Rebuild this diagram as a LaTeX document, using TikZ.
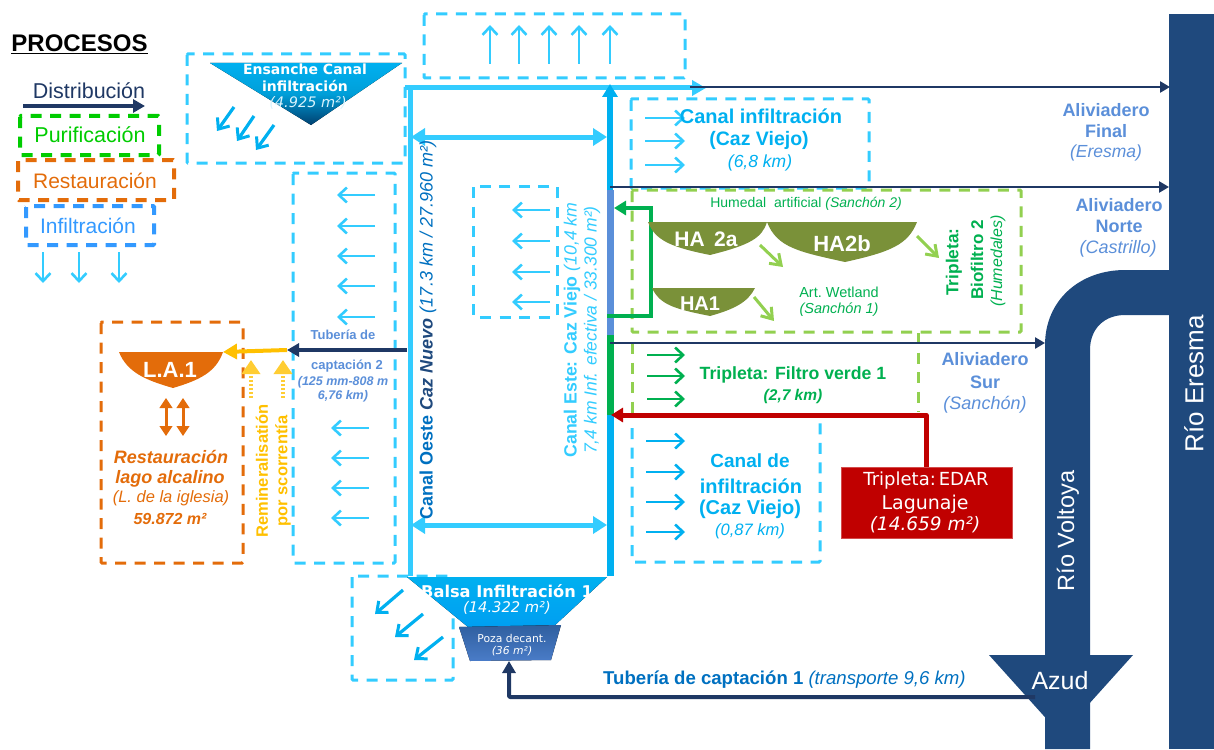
\documentclass[tikz,border=0pt]{standalone}
\usepackage{fontspec}
\setmainfont{Liberation Sans}
\newfontfamily\dv{DejaVu Sans}
\usetikzlibrary{arrows.meta}
\definecolor{cyanb}{HTML}{33CCFF}
\definecolor{skyb}{HTML}{00B0F0}
\definecolor{navy}{HTML}{1F3864}
\definecolor{river}{HTML}{1F497D}
\definecolor{midb}{HTML}{5B8FD9}
\definecolor{greenb}{HTML}{00B050}
\definecolor{limeb}{HTML}{92D050}
\definecolor{oran}{HTML}{E36C0A}
\definecolor{olive}{HTML}{7A9139}
\definecolor{yell}{HTML}{FFC000}
\definecolor{redb}{HTML}{C00000}
\definecolor{canalb}{HTML}{0070C0}
\definecolor{legg}{HTML}{00CC00}
\definecolor{legb}{HTML}{3399FF}
\definecolor{pozat}{HTML}{2F5F9F}
\definecolor{pozab}{HTML}{4A7CC8}
\newcommand{\fsz}[1]{\fontsize{#1}{#1}\selectfont}
\tikzset{
  x=1pt,y=-1pt,
  dbox/.style={line width=3pt,dash pattern=on 11pt off 8.5pt,rounded corners=1pt},
  infbox/.style={dbox,draw=cyanb},
  limebox/.style={dbox,draw=limeb},
  barb/.style={-{Straight Barb[length=8pt,width=15pt,line width=2.6pt]},line width=2.8pt},
  infarrow/.style={barb,draw=cyanb},
  skyarrow/.style={barb,draw=skyb},
  grarrow/.style={barb,draw=greenb},
  diagarrow/.style={-{Straight Barb[length=9pt,width=15pt,line width=3pt]},line width=3.2pt,draw=skyb},
  limearrow/.style={-{Straight Barb[length=10pt,width=14pt,line width=3pt]},line width=3pt,draw=limeb},
  navyline/.style={-{Triangle[length=10pt,width=11pt]},line width=2.5pt,draw=navy},
  navythick/.style={-{Triangle[length=12pt,width=13pt]},line width=4pt,draw=navy,line join=round},
  thick arrow/.style={{Triangle[length=14pt,width=17pt]}-{Triangle[length=14pt,width=17pt]},line width=5pt,draw=cyanb},
  orarrow/.style={{Triangle[length=10pt,width=12.5pt]}-{Triangle[length=10pt,width=12.5pt]},line width=3pt,draw=oran},
  yelarrow/.style={line width=3.5pt,draw=yell!80,dash pattern=on 2pt off 2pt,-{Triangle[length=14pt,width=18pt]}},
  lbl/.style={inner sep=0pt,align=center},
  wt/.style={lbl,text=white},
  hump/.style={fill=olive,draw=none},
}
\begin{document}
\begin{tikzpicture}
\useasboundingbox (0,0) rectangle (1214,749);
% --- legend
\node[lbl,font=\fsz{24}\bfseries] (proc) at (79.5,44) {\underline{PROCESOS}};
\node[lbl,font=\fsz{21.5},text=navy] (dist) at (89,91) {Distribución};
\coordinate (d1) at (23,106); \coordinate (d2) at (145,106);
\draw[navythick] (d1) -- (d2);
\draw[dbox,draw=legg,line width=4pt] (20,116) rectangle (159,155);
\node[lbl,font=\fsz{21.5},text=legg] (puri) at (90,135) {Purificación};
\draw[dbox,draw=oran,line width=4pt] (18,160) rectangle (174,200);
\node[lbl,font=\fsz{21},text=oran] (rest) at (95,181) {Restauración};
\draw[dbox,draw=legb,line width=4pt] (26,206) rectangle (154,245);
\node[lbl,font=\fsz{21},text=legb] (infi) at (88,226) {Infiltración};
\foreach \x in {43,79,119} \draw[infarrow] (\x,252) -- (\x,283);
% --- infiltration boxes
\draw[infbox] (187,54) rectangle (405,163);
\draw[infbox] (424,14) rectangle (685,78);
\draw[infbox] (293,173) rectangle (395,563);
\draw[infbox] (473,186) rectangle (557,317);
\draw[infbox] (352,576) rectangle (453,680);
\draw[infbox] (631,99) rectangle (869,188);
\draw[infbox] (632,428) -- (632,562) -- (820,562) -- (820,418);
\foreach \x in {490,519,549,579,610} \draw[infarrow] (\x,64) -- (\x,25);
\foreach \y in {195,226,256,286,317} \draw[infarrow] (375,\y) -- (337,\y);
\foreach \y in {428,458,488,518} \draw[infarrow] (369,\y) -- (331,\y);
\foreach \y in {210,241,272,302} \draw[infarrow] (550,\y) -- (512,\y);
\foreach \y in {118,141,165} \draw[infarrow] (645,\y) -- (685,\y);
\foreach \y in {441,472,502,532} \draw[skyarrow] (646,\y) -- (685,\y);
\draw[diagarrow] (234,107) -- (217,131);
\draw[diagarrow] (254,116) -- (237,141);
\draw[diagarrow] (274,125) -- (256,150);
\draw[diagarrow] (403,590) -- (375,614);
\draw[diagarrow] (423,614) -- (395,637);
\draw[diagarrow] (443,637) -- (414,660);
% --- wetland boxes
\draw[limebox] (632,190) rectangle (1021,332);
\draw[limebox] (632,343) -- (632,420);
\draw[limebox] (918,333) -- (918,412);
% --- rivers
\fill[river] (1169,14) rectangle (1214,749);
\fill[river] (1045,749) -- (1045,345) .. controls (1045,300) and (1080,270) .. (1125,270) -- (1169,270) -- (1169,315) -- (1125,315) .. controls (1105,315) and (1090,328) .. (1090,350) -- (1090,749) -- cycle;
\fill[river] (989,655) -- (1133,655) -- (1061,735) -- cycle;
\node[wt,font=\fsz{26},rotate=90] (eresma) at (1194,384) {Río Eresma};
\node[wt,font=\fsz{23.5},rotate=90] (voltoya) at (1068,531) {Río Voltoya};
\node[wt,font=\fsz{25}] (azud) at (1060,681) {Azud};
% --- main canal frame
\coordinate (tl) at (405,88); \coordinate (tr) at (706,88);
\coordinate (bl) at (410,576); \coordinate (tlv) at (410,88);
\draw[line width=5pt,draw=cyanb] (bl) -- (tlv);
\draw[line width=5pt,draw=cyanb,-{Triangle[length=14pt,width=15pt]}] (tl) -- (tr);
\coordinate (ra) at (610,576); \coordinate (rb) at (610,415); \coordinate (rc) at (610,335);
\coordinate (rd) at (610,190); \coordinate (re) at (610,84);
\draw[line width=7pt,draw=skyb] (ra) -- (rb);
\draw[line width=7pt,draw=greenb] (rb) -- (rc);
\draw[line width=7pt,draw=midb] (rc) -- (rd);
\draw[line width=6pt,draw=skyb,-{Triangle[length=13pt,width=15pt]}] (rd) -- (re);
\coordinate (da1) at (411,137); \coordinate (da2) at (607,137);
\coordinate (db1) at (411,525); \coordinate (db2) at (607,525);
\draw[thick arrow] (da1) -- (da2);
\draw[thick arrow] (db1) -- (db2);
% --- overflow lines
\coordinate (n1) at (690,87); \coordinate (n2) at (1170,87);
\coordinate (n3) at (610,187); \coordinate (n4) at (1169,187);
\coordinate (n5) at (610,343); \coordinate (n6) at (1045,343);
\draw[navyline] (n1) -- (n2);
\draw[navyline] (n3) -- (n4);
\draw[navyline] (n5) -- (n6);
% --- red and green return
\node[fill=redb,draw=redb!70!white,line width=0.8pt,minimum width=171pt,minimum height=71pt,inner sep=0pt] (edar) at (926.5,502.5) {};
\coordinate (r1) at (926,415); \coordinate (r2) at (611,415);
\draw[line width=5pt,draw=redb,line join=round,-{Triangle[length=12pt,width=14pt]}] (edar.north -| r1) -- (r1) -- (r2);
\coordinate (g1) at (607,316); \coordinate (g2) at (651,316); \coordinate (g3) at (651,208); \coordinate (g4) at (614,208);
\draw[line width=4pt,draw=greenb,line join=miter,-{Triangle[length=12pt,width=14pt]}] (g1) -- (g2) -- (g3) -- (g4);
\node[wt,font=\dv\fsz{18}] (e1) at (926,481) {Tripleta:\,EDAR};
\node[wt,font=\dv\fsz{19}] (e2) at (925,504) {Lagunaje};
\node[wt,font=\dv\itshape\fsz{18.5}] (e3) at (925,525) {(14.659 m²)};
% --- Ensanche
\fill[top color=skyb,bottom color=skyb!40!black!90!blue,middle color=skyb!90!black] (210,63) -- (402,63) -- (311,125) -- cycle;
\node[wt,font=\dv\bfseries\fsz{14}] (ens1) at (305,69) {Ensanche Canal};
\node[wt,font=\dv\bfseries\fsz{14}] (ens2) at (305,86) {infiltración};
\node[wt,font=\dv\itshape\fsz{14.5},text=white!85!skyb] (ens3) at (308,103) {(4.925 m²)};
% --- Balsa
\fill[top color=skyb,bottom color=skyb!90!blue] (407,577) -- (607,577) -- (553,627) -- (468,627) -- cycle;
\node[wt,font=\dv\bfseries\fsz{16.2}] (bal1) at (507,591) {Balsa Infiltración 1};
\node[wt,font=\dv\itshape\fsz{14.7}] (bal2) at (507,608) {(14.322 m²)};
\fill[top color=pozat,bottom color=pozab] (459,627) -- (561,625) -- (551,660) -- (470,661) -- cycle;
\node[wt,font=\dv\fsz{10.8}] (poz1) at (512,638) {Poza decant.};
\node[wt,font=\dv\itshape\fsz{10.8}] (poz2) at (512,651) {(36 m²)};
\coordinate (t1) at (1035,697); \coordinate (t2) at (509,697); \coordinate (t3) at (509,661);
\draw[navythick,rounded corners=1pt] (t1) -- (t2) -- (t3);
\node[lbl,font=\fsz{18.6},text=canalb,anchor=west] (tub1) at (603,680) {\bfseries Tubería de captación 1 \mdseries\itshape (transporte 9,6 km)};
% --- canal labels
\node[lbl,font=\fsz{18},text=canalb,rotate=90] (oeste) at (428,330) {\bfseries Canal Oeste \itshape\color{river}Caz Nuevo\mdseries\color{canalb}\ (17.3 km / 27.960 m²)};
\node[lbl,font=\fsz{17.7},text=cyanb,rotate=90] (este1) at (572,330) {\bfseries Canal Este: Caz Viejo \mdseries\itshape(10,4 km};
\node[lbl,font=\fsz{17.5},text=cyanb,rotate=90] (este2) at (592,330) {\itshape 7,4 km Inf. efectiva / 33.300 m²)};
% --- Lake
\fill[oran] (119,352) -- (223,352) .. controls (216,372) and (200,380) .. (173,388) .. controls (145,380) and (127,372) .. (119,352) -- cycle;
\node[wt,font=\fsz{22}\bfseries] (la) at (170,370) {L.A.1};
\draw[dbox,draw=oran] (101,322) rectangle (243,563);
\coordinate (o1) at (166,398); \coordinate (o2) at (166,436); \coordinate (o3) at (183,398); \coordinate (o4) at (183,436);
\draw[orarrow] (o1) -- (o2);
\draw[orarrow] (o3) -- (o4);
\node[lbl,font=\fsz{18}\bfseries\itshape,text=oran] (l1) at (171,457) {Restauración};
\node[lbl,font=\fsz{18}\bfseries\itshape,text=oran] (l2) at (170,479) {lago alcalino};
\node[lbl,font=\fsz{16.5}\itshape,text=oran] (l3) at (171,498) {(L. de la iglesia)};
\node[lbl,font=\fsz{16}\itshape\bfseries,text=oran] (l4) at (170,519) {59.872 m²};
% --- pipe 2
\coordinate (p1) at (407,350); \coordinate (p2) at (287,350); \coordinate (p3) at (223,352);
\draw[line width=4pt,draw=yell,-{Triangle[length=14pt,width=15pt]}] (p2) -- (p3);
\draw[navythick] (p1) -- (p2);
\node[lbl,font=\fsz{13}\bfseries,text=midb] (c1) at (343,335) {Tubería de};
\node[lbl,font=\fsz{13}\bfseries,text=midb] (c2) at (347,366) {captación 2};
\node[lbl,font=\fsz{12.5}\bfseries\itshape,text=midb] (c3) at (343,382) {(125 mm-808 m};
\node[lbl,font=\fsz{12.5}\bfseries\itshape,text=midb] (c4) at (343,396) {6,76 km)};
\coordinate (y1) at (251,398); \coordinate (y2) at (251,360); \coordinate (y3) at (283,398); \coordinate (y4) at (283,360);
\draw[yelarrow] (y1) -- (y2);
\draw[yelarrow] (y3) -- (y4);
\node[lbl,font=\fsz{16.5}\bfseries,text=yell,rotate=90] (rem) at (262,471) {Remineralisatión};
\node[lbl,font=\fsz{16.5}\bfseries,text=yell,rotate=90] (esc) at (283,471) {por scorrentía};
% --- right text
\node[lbl,font=\fsz{20}\bfseries,text=skyb] (ci1) at (761,116) {Canal infiltración};
\node[lbl,font=\fsz{19.5}\bfseries,text=skyb] (ci2) at (759,140) {(Caz Viejo)};
\node[lbl,font=\fsz{17.5}\itshape,text=skyb] (ci3) at (760,163) {(6,8 km)};
\node[lbl,font=\fsz{19}\bfseries,text=skyb] (cd1) at (750,461) {Canal de};
\node[lbl,font=\fsz{20}\bfseries,text=skyb] (cd2) at (751,486) {infiltración};
\node[lbl,font=\fsz{20}\bfseries,text=skyb] (cd3) at (750,509) {(Caz Viejo)};
\node[lbl,font=\fsz{16.5}\itshape,text=skyb] (cd4) at (750,531) {(0,87 km)};
\node[lbl,font=\fsz{18}\bfseries,text=midb] (af1) at (1106,110) {Aliviadero};
\node[lbl,font=\fsz{18}\bfseries,text=midb] (af2) at (1106,131) {Final};
\node[lbl,font=\fsz{17.5}\itshape,text=midb] (af3) at (1106,153) {(Eresma)};
\node[lbl,font=\fsz{18}\bfseries,text=midb] (an1) at (1119,205) {Aliviadero};
\node[lbl,font=\fsz{18}\bfseries,text=midb] (an2) at (1119,226) {Norte};
\node[lbl,font=\fsz{18}\itshape,text=midb] (an3) at (1118,249) {(Castrillo)};
\node[lbl,font=\fsz{18}\bfseries,text=midb] (as1) at (985,359) {Aliviadero};
\node[lbl,font=\fsz{18}\bfseries,text=midb] (as2) at (985,382) {Sur};
\node[lbl,font=\fsz{18}\itshape,text=midb] (as3) at (985,405) {(Sanchón)};
% --- wetlands
\node[lbl,font=\fsz{14},text=greenb] (hum) at (806,204) {Humedal\ \ artificial \itshape(Sanchón 2)};
\fill[hump] (648,222) -- (767,222) .. controls (762,238) and (750,245) .. (710,255) .. controls (670,247) and (655,240) .. (648,222) -- cycle;
\fill[hump] (767,222) -- (917,222) .. controls (908,245) and (890,252) .. (845,262) .. controls (800,252) and (777,248) .. (767,222) -- cycle;
\fill[hump] (652,288) -- (755,288) .. controls (748,302) and (735,309) .. (710,316) .. controls (675,309) and (660,305) .. (652,288) -- cycle;
\node[wt,font=\fsz{21}\bfseries] (ha2a) at (706,239) {HA\ \,2a};
\node[wt,font=\fsz{22}\bfseries] (ha2b) at (842,244) {HA2b};
\node[wt,font=\fsz{20}\bfseries] (ha1) at (700,304) {HA1};
\draw[limearrow] (760,245) -- (783,267);
\draw[limearrow] (917,236) -- (939,258);
\draw[limearrow] (754,297) -- (774,321);
\node[lbl,font=\fsz{14.5},text=greenb] (aw1) at (839,292) {Art.\ Wetland};
\node[lbl,font=\fsz{14.5}\itshape,text=greenb] (aw2) at (839,310) {(Sanchón 1)};
\node[lbl,font=\fsz{17.3}\bfseries,text=greenb,rotate=90] (tr1) at (954,262) {Tripleta:};
\node[lbl,font=\fsz{17}\bfseries,text=greenb,rotate=90] (tr2) at (977,260) {Biofiltro 2};
\node[lbl,font=\fsz{16}\itshape,text=greenb,rotate=90] (tr3) at (998,261) {(Humedales)};
\foreach \y in {355,376,399} \draw[grarrow] (647,\y) -- (685,\y);
\node[lbl,font=\fsz{17.7}\bfseries,text=greenb] (fv1) at (793,375) {Tripleta: Filtro verde 1};
\node[lbl,font=\fsz{15.5}\bfseries\itshape,text=greenb] (fv2) at (793,396) {(2,7 km)};
\end{tikzpicture}
\end{document}
